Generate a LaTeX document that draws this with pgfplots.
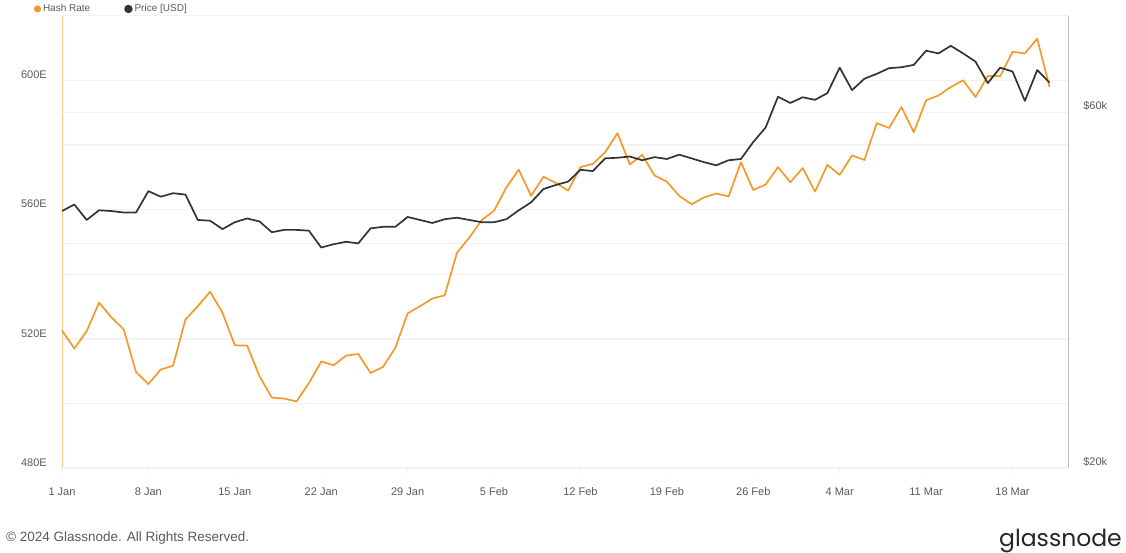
\documentclass[border=0pt]{standalone}
\usepackage{pgfplots}
\pgfplotsset{compat=1.18}
\usepackage{pgfplotstable}
\usepackage{fontspec}
\setmainfont{Liberation Sans}
\newfontfamily\logofont{Poppins}
\definecolor{hashorange}{HTML}{F39A2B}
\definecolor{pricegray}{HTML}{333333}
\definecolor{gridc}{HTML}{F2F2F2}
\definecolor{ticktext}{HTML}{5A5A5A}

% day (0 = 1 Jan 2024), hash rate in EH/s
\pgfplotstableread{
d hr
0 522.6
1 517.0
2 522.4
3 531.2
4 526.7
5 522.9
6 509.7
7 506.0
8 510.5
9 511.7
10 526.0
11 530.1
12 534.6
13 528.1
14 518.0
15 517.9
16 508.4
17 501.8
18 501.5
19 500.6
20 506.3
21 513.0
22 511.8
23 514.8
24 515.3
25 509.4
26 511.3
27 517.2
28 527.9
29 530.1
30 532.5
31 533.5
32 546.7
33 551.4
34 556.8
35 559.7
36 566.9
37 572.4
38 564.3
39 570.2
40 568.3
41 565.9
42 573.2
43 574.2
44 577.8
45 583.7
46 574.0
47 577.0
48 570.6
49 568.7
50 564.3
51 561.7
52 563.8
53 565.0
54 564.1
55 574.7
56 566.1
57 567.8
58 573.2
59 568.5
60 572.9
61 565.6
62 573.9
63 570.8
64 576.8
65 575.4
66 586.8
67 585.3
68 591.8
69 584.0
70 593.9
71 595.4
72 598.0
73 600.1
74 594.9
75 601.4
76 601.4
77 608.9
78 608.4
79 613.0
80 598.0
}\hashtable

% day, price in thousand USD
\pgfplotstableread{
d p
0 44.2
1 45.1
2 43.0
3 44.3
4 44.2
5 44.0
6 44.0
7 47.0
8 46.2
9 46.7
10 46.5
11 43.0
12 42.9
13 41.8
14 42.7
15 43.2
16 42.8
17 41.4
18 41.7
19 41.7
20 41.6
21 39.5
22 39.9
23 40.2
24 40.0
25 41.9
26 42.1
27 42.1
28 43.4
29 43.0
30 42.6
31 43.1
32 43.3
33 43.0
34 42.7
35 42.7
36 43.1
37 44.3
38 45.4
39 47.3
40 47.9
41 48.4
42 50.2
43 50.0
44 52.0
45 52.1
46 52.3
47 51.7
48 52.2
49 51.9
50 52.6
51 52.0
52 51.4
53 50.9
54 51.7
55 51.9
56 54.7
57 57.2
58 62.9
59 61.7
60 62.8
61 62.3
62 63.6
63 68.8
64 64.2
65 66.5
66 67.5
67 68.7
68 68.9
69 69.4
70 72.5
71 71.9
72 73.6
73 71.9
74 70.1
75 65.6
76 68.8
77 68.0
78 62.1
79 68.3
80 65.7
}\pricetable

\begin{document}
\begin{tikzpicture}[x=1pt,y=1pt]
\path[use as bounding box] (-62,-85) rectangle (1064,468);
\begin{axis}[
  at={(0,0)}, anchor=south west,
  scale only axis, width=1006pt, height=452pt,
  xmin=0, xmax=81.5, ymin=480, ymax=620,
  axis y line*=left, axis x line*=bottom,
  y axis line style={draw=hashorange!55, line width=0.8pt, -},
  x axis line style={draw=gridc, line width=1.4pt, -},
  xtick={0,7,...,77},
  xticklabels={1 Jan,8 Jan,15 Jan,22 Jan,29 Jan,5 Feb,12 Feb,19 Feb,26 Feb,4 Mar,11 Mar,18 Mar},
  ytick={480,500,...,600},
  yticklabels={480E,,520E,,560E,,600E},
  extra y ticks={549.6,590.2},
  extra y tick labels={},
  extra y tick style={ymajorgrids, y tick style={draw=none}},
  ymajorgrids,
  major grid style={draw=gridc, line width=1.4pt},
  y tick style={draw=none},
  x tick style={draw=gridc, line width=1pt},
  tick align=outside, major tick length=6pt,
  tick label style={font=\fontsize{11}{11}\selectfont, text=ticktext, inner sep=0pt},
  yticklabel style={anchor=south east, xshift=-9pt, yshift=1.5pt},
  xticklabel style={anchor=base, yshift=-22pt},
  clip=false,
]
\draw[gridc, line width=1pt] (rel axis cs:0,1) -- (rel axis cs:1,1);
\addplot[hashorange, line width=1.7pt, line join=round] table[x=d, y=hr] {\hashtable};
\end{axis}
\begin{axis}[
  at={(0,0)}, anchor=south west,
  scale only axis, width=1006pt, height=452pt,
  xmin=0, xmax=81.5, ymode=log, ymin=20, ymax=80.7,
  axis y line*=right, axis x line=none,
  y axis line style={draw=black!25, line width=0.8pt, -},
  ytick={20,60}, yticklabels={\$20k,\$60k},
  y tick style={draw=none}, minor y tick style={draw=none},
  tick label style={font=\fontsize{11}{11}\selectfont, text=ticktext, inner sep=0pt},
  yticklabel style={anchor=south west, xshift=15pt, yshift=2pt},
  legend columns=2,
  legend style={at={(axis description cs:-0.028,1.0155)}, anchor=west, draw=none, fill=none,
    font=\fontsize{10}{10}\selectfont, text=ticktext, inner sep=0pt,
    /tikz/every even column/.append style={column sep=32pt},
    nodes={inner sep=2pt}},
  legend cell align=left,
]
\addlegendimage{legend image code/.code={\fill[hashorange] (0pt,0pt) circle (3.3pt);}}
\addlegendentry{Hash Rate}
\addplot[pricegray, line width=1.7pt, line join=round,
  legend image code/.code={\fill[pricegray] (0pt,0pt) circle (3.3pt);}] table[x=d, y=p] {\pricetable};
\addlegendentry{Price [USD]}
\end{axis}
\node[anchor=base west, font=\fontsize{13.5}{13.5}\selectfont, text=ticktext, inner sep=0pt] at (-56,-74) {© 2024 Glassnode. All Rights Reserved.};
\node[anchor=base east, font=\logofont\fontsize{23.5}{23.5}\selectfont, text=black!85, inner sep=0pt] at (1060,-79) {glassnode};
\end{tikzpicture}
\end{document}
